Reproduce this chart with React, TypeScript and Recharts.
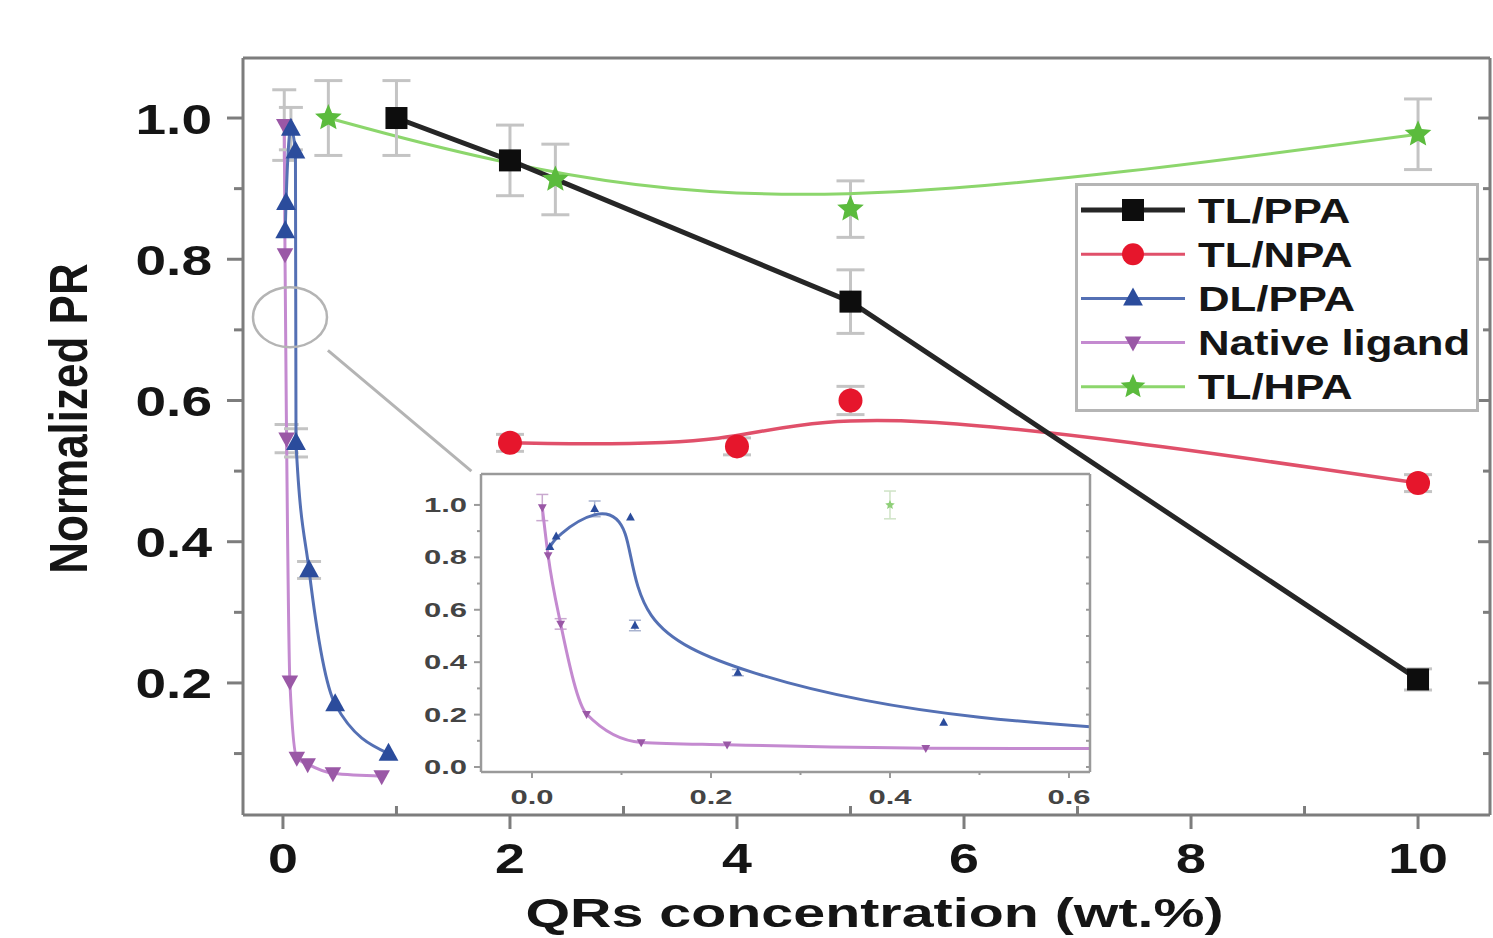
import React from 'react';
import {
  LineChart,
  Line,
  XAxis,
  YAxis,
  ErrorBar,
  Legend,
  ReferenceDot,
  ReferenceLine,
  ReferenceArea,
  Label,
} from 'recharts';

// ---------------- data ----------------
const seriesNames = ['TL/PPA', 'TL/NPA', 'DL/PPA', 'Native ligand', 'TL/HPA'];

const tlPpaX = [1, 2, 5, 10];
const tlPpaY = [1.0, 0.94, 0.74, 0.205];
const tlPpaErr = [0.053, 0.05, 0.045, 0.015];

const tlNpaX = [2, 4, 5, 10];
const tlNpaY = [0.54, 0.535, 0.6, 0.483];
const tlNpaErr = [0.012, 0.012, 0.02, 0.012];

const dlPpaX = [0.02, 0.027, 0.07, 0.11, 0.115, 0.23, 0.46, 0.93];
const dlPpaY = [0.84, 0.88, 0.985, 0.953, 0.54, 0.36, 0.17, 0.1];
const dlPpaErr = [0, 0, 0.03, 0, 0.02, 0.012, 0, 0];

const nativeX = [0.0115, 0.018, 0.032, 0.061, 0.122, 0.218, 0.44, 0.87];
const nativeY = [0.99, 0.807, 0.546, 0.202, 0.094, 0.085, 0.072, 0.068];
const nativeErr = [0.05, 0, 0.02, 0, 0, 0, 0, 0];

const tlHpaX = [0.4, 2.4, 5, 10];
const tlHpaY = [1.0, 0.913, 0.871, 0.977];
const tlHpaErr = [0.053, 0.05, 0.04, 0.05];

const mainXTicks = [0, 1, 2, 3, 4, 5, 6, 7, 8, 9, 10];
const mainYTicks = [0.1, 0.2, 0.3, 0.4, 0.5, 0.6, 0.7, 0.8, 0.9, 1.0];
const insetXTicks = [0, 0.1, 0.2, 0.3, 0.4, 0.5, 0.6];
const insetYTicks = [0, 0.1, 0.2, 0.3, 0.4, 0.5, 0.6, 0.7, 0.8, 0.9, 1.0];

const mainXDomain = [-0.352, 10.634];
const mainYDomain = [0.013, 1.085];
const insetXDomain = [-0.057, 0.6235];
const insetYDomain = [-0.019, 1.118];

// zoom annotation (circle + connector), in main-axis units
const zoomCircle = { x: 0.062, y: 0.718 };
const zoomConnector = [
  { x: 0.396, y: 0.671 },
  { x: 1.66, y: 0.5 },
];

const zip = (xs: number[], ys: number[], es: number[]) =>
  xs.map((x, i) => ({ x, y: ys[i], e: es[i] }));

const tlPpa = zip(tlPpaX, tlPpaY, tlPpaErr);
const tlNpa = zip(tlNpaX, tlNpaY, tlNpaErr);
const dlPpa = zip(dlPpaX, dlPpaY, dlPpaErr);
const native = zip(nativeX, nativeY, nativeErr);
const tlHpa = zip(tlHpaX, tlHpaY, tlHpaErr);

// ---------------- styles ----------------
const FONT = '"Liberation Sans", Arial, sans-serif';
const AX = '#7d7d7d';
const IAX = '#9a9a9a';
const ERR = '#c4c4c4';
const C = {
  black: '#0d0d0d',
  blackLine: '#262626',
  red: '#e6162c',
  redLine: '#e0506a',
  blue: '#2b4c9c',
  blueLine: '#5470b4',
  pink: '#9a58a6',
  pinkLine: '#c48ad0',
  green: '#5bbb3d',
  greenLine: '#8cd66c',
};

// ---------------- markers ----------------
function starPath(cx: number, cy: number, R: number, r: number) {
  let d = '';
  for (let i = 0; i < 10; i++) {
    const a = -Math.PI / 2 + (i * Math.PI) / 5;
    const rr = i % 2 === 0 ? R : r;
    d += (i === 0 ? 'M' : 'L') + (cx + rr * Math.cos(a)).toFixed(2) + ',' + (cy + rr * Math.sin(a)).toFixed(2);
  }
  return d + 'Z';
}

type Shape = 'square' | 'circle' | 'up' | 'down' | 'star';

const Marker = ({ shape, cx, cy, s, color }: { shape: Shape; cx: number; cy: number; s: number; color: string }) => {
  if (shape === 'square') return <rect x={cx - s / 2} y={cy - s / 2} width={s} height={s} fill={color} />;
  if (shape === 'circle') return <circle cx={cx} cy={cy} r={s / 2} fill={color} />;
  if (shape === 'up')
    return <polygon points={`${cx},${cy - s * 0.6} ${cx + s * 0.55},${cy + s * 0.4} ${cx - s * 0.55},${cy + s * 0.4}`} fill={color} />;
  if (shape === 'down')
    return <polygon points={`${cx},${cy + s * 0.6} ${cx + s * 0.55},${cy - s * 0.4} ${cx - s * 0.55},${cy - s * 0.4}`} fill={color} />;
  return <path d={starPath(cx, cy, s / 2, s / 4.4)} fill={color} />;
};

const dotFn = (shape: Shape, s: number, color: string) => (props: any) => {
  const { cx, cy, index } = props;
  if (cx == null || cy == null) return <g key={`n${index}`} />;
  return (
    <g key={`d${index}`}>
      <Marker shape={shape} cx={cx} cy={cy} s={s} color={color} />
    </g>
  );
};

// ---------------- ticks ----------------
const SX = 1.25;

const MainBottomTick = (props: any) => {
  const { x, y, payload } = props;
  const v = payload.value;
  const major = Math.round(v) % 2 === 0;
  return (
    <g>
      {major ? (
        <line x1={x} y1={y} x2={x} y2={y + 14} stroke={AX} strokeWidth={3} />
      ) : (
        <line x1={x} y1={y} x2={x} y2={y - 9} stroke={AX} strokeWidth={3} />
      )}
      {major && (
        <text
          transform={`translate(${x},${y + 58}) scale(${SX},1)`}
          textAnchor="middle"
          fontSize={43}
          fontWeight="bold"
          fontFamily={FONT}
          fill="#151515"
        >
          {v}
        </text>
      )}
    </g>
  );
};

const MainTopTick = (props: any) => {
  const { x, y, payload } = props;
  const major = Math.round(payload.value) % 2 === 0;
  return <line x1={x} y1={y} x2={x} y2={y + (major ? 13 : 8)} stroke={AX} strokeWidth={3} />;
};

const MainLeftTick = (props: any) => {
  const { x, y, payload } = props;
  const v = payload.value;
  const major = Math.round(v * 10) % 2 === 0;
  return (
    <g>
      <line x1={x} y1={y} x2={x - (major ? 16 : 9)} y2={y} stroke={AX} strokeWidth={3} />
      {major && (
        <text
          transform={`translate(${x - 31},${y + 15.5}) scale(1.28,1)`}
          textAnchor="end"
          fontSize={43}
          fontWeight="bold"
          fontFamily={FONT}
          fill="#151515"
        >
          {v.toFixed(1)}
        </text>
      )}
    </g>
  );
};

const MainRightTick = (props: any) => {
  const { x, y, payload } = props;
  const major = Math.round(payload.value * 10) % 2 === 0;
  return <line x1={x} y1={y} x2={x - (major ? 12 : 7)} y2={y} stroke={AX} strokeWidth={3} />;
};

const InsetBottomTick = (props: any) => {
  const { x, y, payload } = props;
  const v = payload.value;
  const major = Math.round(v * 10) % 2 === 0;
  return (
    <g>
      <line x1={x} y1={y} x2={x} y2={y + (major ? 6 : 3)} stroke={IAX} strokeWidth={2} />
      {major && (
        <text
          transform={`translate(${x},${y + 32}) scale(1.55,1)`}
          textAnchor="middle"
          fontSize={20}
          fontWeight="bold"
          fontFamily={FONT}
          fill="#444"
        >
          {v.toFixed(1)}
        </text>
      )}
    </g>
  );
};

const InsetLeftTick = (props: any) => {
  const { x, y, payload } = props;
  const v = payload.value;
  const major = Math.round(v * 10) % 2 === 0;
  return (
    <g>
      <line x1={x} y1={y} x2={x - (major ? 7 : 4)} y2={y} stroke={IAX} strokeWidth={2} />
      {major && (
        <text
          transform={`translate(${x - 14},${y + 7}) scale(1.55,1)`}
          textAnchor="end"
          fontSize={20}
          fontWeight="bold"
          fontFamily={FONT}
          fill="#444"
        >
          {v.toFixed(1)}
        </text>
      )}
    </g>
  );
};

const InsetTopTick = (props: any) => {
  const { x, y } = props;
  return <line x1={x} y1={y} x2={x} y2={y + 4} stroke={IAX} strokeWidth={2} />;
};

const InsetRightTick = (props: any) => {
  const { x, y } = props;
  return <line x1={x} y1={y} x2={x - 4} y2={y} stroke={IAX} strokeWidth={2} />;
};

// ---------------- titles ----------------
const XTitle = (props: any) => {
  const vb = props.viewBox || { x: 243, y: 815, width: 1247 };
  const cx = vb.x + vb.width / 2 + 8;
  return (
    <text
      transform={`translate(${cx},${vb.y + 112}) scale(1.4,1)`}
      textAnchor="middle"
      fontSize={41}
      fontWeight="bold"
      fontFamily={FONT}
      fill="#151515"
    >
      QRs concentration (wt.%)
    </text>
  );
};

const YTitle = (props: any) => {
  const vb = props.viewBox || { x: 242, y: 58, height: 757 };
  const cy = vb.y + vb.height / 2 - 18;
  return (
    <text
      transform={`translate(87,${cy}) scale(1.2,1) rotate(-90)`}
      textAnchor="middle"
      fontSize={44}
      fontWeight="bold"
      fontFamily={FONT}
      fill="#151515"
    >
      Normalized PR
    </text>
  );
};

// ---------------- legend ----------------
const legendStyle: { name: string; shape: Shape; color: string; line: string; s: number }[] = [
  { name: seriesNames[0], shape: 'square', color: C.black, line: C.blackLine, s: 22 },
  { name: seriesNames[1], shape: 'circle', color: C.red, line: C.redLine, s: 22 },
  { name: seriesNames[2], shape: 'up', color: C.blue, line: C.blueLine, s: 18 },
  { name: seriesNames[3], shape: 'down', color: C.pink, line: C.pinkLine, s: 15 },
  { name: seriesNames[4], shape: 'star', color: C.green, line: C.greenLine, s: 26 },
];

const LegendBox = () => (
  <svg width={405} height={230} style={{ display: 'block' }}>
    <rect x={1.5} y={1.5} width={401} height={226} fill="#fff" stroke="#b5b5b5" strokeWidth={3} />
    {legendStyle.map((it, i) => {
      const cy = 27 + i * 44.2;
      return (
        <g key={it.name}>
          <line x1={6} y1={cy} x2={110} y2={cy} stroke={it.line} strokeWidth={i === 0 ? 5 : 3} />
          <Marker shape={it.shape} cx={58} cy={cy} s={it.s} color={it.color} />
          <text
            transform={`translate(123,${cy + 12.5}) scale(${SX},1)`}
            fontSize={35}
            fontWeight="bold"
            fontFamily={FONT}
            fill="#151515"
          >
            {it.name}
          </text>
        </g>
      );
    })}
  </svg>
);

// ---------------- charts ----------------
const MainChart = () => (
  <LineChart width={1493} height={938} margin={{ top: 57, right: 2, bottom: 122, left: 242 }}>
    <XAxis
      type="number"
      dataKey="x"
      domain={mainXDomain}
      allowDataOverflow
      ticks={mainXTicks}
      interval={0}
      height={1}
      tickSize={0}
      tickMargin={0}
      tickLine={false}
      axisLine={{ stroke: AX, strokeWidth: 3 }}
      tick={<MainBottomTick />}
    >
      <Label content={<XTitle />} />
    </XAxis>
    <XAxis
      xAxisId="top"
      orientation="top"
      type="number"
      domain={mainXDomain}
      allowDataOverflow
      ticks={mainXTicks}
      interval={0}
      height={1}
      tickSize={0}
      tickMargin={0}
      tickLine={false}
      axisLine={{ stroke: AX, strokeWidth: 3 }}
      tick={<MainTopTick />}
    />
    <YAxis
      type="number"
      domain={mainYDomain}
      allowDataOverflow
      ticks={mainYTicks}
      interval={0}
      width={1}
      tickSize={0}
      tickMargin={0}
      tickLine={false}
      axisLine={{ stroke: AX, strokeWidth: 3 }}
      tick={<MainLeftTick />}
    >
      <Label content={<YTitle />} />
    </YAxis>
    <YAxis
      yAxisId="right"
      orientation="right"
      type="number"
      domain={mainYDomain}
      allowDataOverflow
      ticks={mainYTicks}
      interval={0}
      width={1}
      tickSize={0}
      tickMargin={0}
      tickLine={false}
      axisLine={{ stroke: AX, strokeWidth: 3 }}
      tick={<MainRightTick />}
    />

    <ReferenceDot
      x={zoomCircle.x}
      y={zoomCircle.y}
      r={30}
      shape={(p: any) => <ellipse cx={p.cx} cy={p.cy} rx={37} ry={30} fill="none" stroke="#b4b4b4" strokeWidth={2.5} />}
    />
    <ReferenceLine segment={zoomConnector} stroke="#b4b4b4" strokeWidth={3} />

    <Line data={native} dataKey="y" name={seriesNames[3]} type="monotone" stroke={C.pinkLine} strokeWidth={3}
      dot={dotFn('down', 15, C.pink)} isAnimationActive={false}>
      <ErrorBar dataKey="e" direction="y" width={12} stroke={ERR} strokeWidth={3} />
    </Line>
    <Line data={dlPpa} dataKey="y" name={seriesNames[2]} type="monotone" stroke={C.blueLine} strokeWidth={3}
      dot={dotFn('up', 18, C.blue)} isAnimationActive={false}>
      <ErrorBar dataKey="e" direction="y" width={12} stroke={ERR} strokeWidth={3} />
    </Line>
    <Line data={tlHpa} dataKey="y" name={seriesNames[4]} type="basis" stroke={C.greenLine} strokeWidth={3}
      dot={dotFn('star', 28, C.green)} isAnimationActive={false}>
      <ErrorBar dataKey="e" direction="y" width={14} stroke={ERR} strokeWidth={3} />
    </Line>
    <Line data={tlNpa} dataKey="y" name={seriesNames[1]} type="basis" stroke={C.redLine} strokeWidth={3.5}
      dot={dotFn('circle', 24, C.red)} isAnimationActive={false}>
      <ErrorBar dataKey="e" direction="y" width={14} stroke={ERR} strokeWidth={3} />
    </Line>
    <Line data={tlPpa} dataKey="y" name={seriesNames[0]} type="linear" stroke={C.blackLine} strokeWidth={5}
      dot={dotFn('square', 22, C.black)} isAnimationActive={false}>
      <ErrorBar dataKey="e" direction="y" width={14} stroke={ERR} strokeWidth={3} />
    </Line>

    <Legend
      layout="horizontal"
      verticalAlign="middle"
      align="center"
      content={<LegendBox />}
      wrapperStyle={{ position: 'absolute', left: 1075, top: 183, width: 405, height: 230 }}
    />
  </LineChart>
);

const InsetChart = () => (
  <LineChart width={700} height={350} margin={{ top: 7, right: 9, bottom: 43, left: 80 }}>
    <ReferenceArea
      x1={insetXDomain[0]}
      x2={insetXDomain[1]}
      y1={insetYDomain[0]}
      y2={insetYDomain[1]}
      fill="#fff"
      fillOpacity={1}
      stroke="none"
    />
    <XAxis
      type="number"
      dataKey="x"
      domain={insetXDomain}
      allowDataOverflow
      ticks={insetXTicks}
      interval={0}
      height={1}
      tickSize={0}
      tickMargin={0}
      tickLine={false}
      axisLine={{ stroke: IAX, strokeWidth: 2.5 }}
      tick={<InsetBottomTick />}
    />
    <XAxis
      xAxisId="top"
      orientation="top"
      type="number"
      domain={insetXDomain}
      allowDataOverflow
      ticks={insetXTicks}
      interval={0}
      height={1}
      tickSize={0}
      tickMargin={0}
      tickLine={false}
      axisLine={{ stroke: IAX, strokeWidth: 2.5 }}
      tick={<InsetTopTick />}
    />
    <YAxis
      type="number"
      domain={insetYDomain}
      allowDataOverflow
      ticks={insetYTicks}
      interval={0}
      width={1}
      tickSize={0}
      tickMargin={0}
      tickLine={false}
      axisLine={{ stroke: IAX, strokeWidth: 2.5 }}
      tick={<InsetLeftTick />}
    />
    <YAxis
      yAxisId="right"
      orientation="right"
      type="number"
      domain={insetYDomain}
      allowDataOverflow
      ticks={insetYTicks}
      interval={0}
      width={1}
      tickSize={0}
      tickMargin={0}
      tickLine={false}
      axisLine={{ stroke: IAX, strokeWidth: 2.5 }}
      tick={<InsetRightTick />}
    />
    <Line data={native} dataKey="y" type="monotone" stroke={C.pinkLine} strokeWidth={3}
      dot={dotFn('down', 8, C.pink)} isAnimationActive={false}>
      <ErrorBar dataKey="e" direction="y" width={6} stroke="#c9a9cf" strokeWidth={1.5} />
    </Line>
    <Line data={dlPpa} dataKey="y" type="basis" stroke={C.blueLine} strokeWidth={3}
      dot={dotFn('up', 8, C.blue)} isAnimationActive={false}>
      <ErrorBar dataKey="e" direction="y" width={6} stroke="#a9b3cf" strokeWidth={1.5} />
    </Line>
    <Line data={tlHpa} dataKey="y" type="linear" stroke="none" strokeWidth={0}
      dot={dotFn('star', 10, '#8fcf78')} isAnimationActive={false}>
      <ErrorBar dataKey="e" direction="y" width={6} stroke="#cfe3c6" strokeWidth={1.5} />
    </Line>
  </LineChart>
);

export default function App() {
  return (
    <div style={{ position: 'absolute', left: 0, top: 0, width: 1493, height: 938, background: '#fff' }}>
      <MainChart />
      <div style={{ position: 'absolute', left: 400, top: 466, width: 700, height: 350 }}>
        <InsetChart />
      </div>
    </div>
  );
}
